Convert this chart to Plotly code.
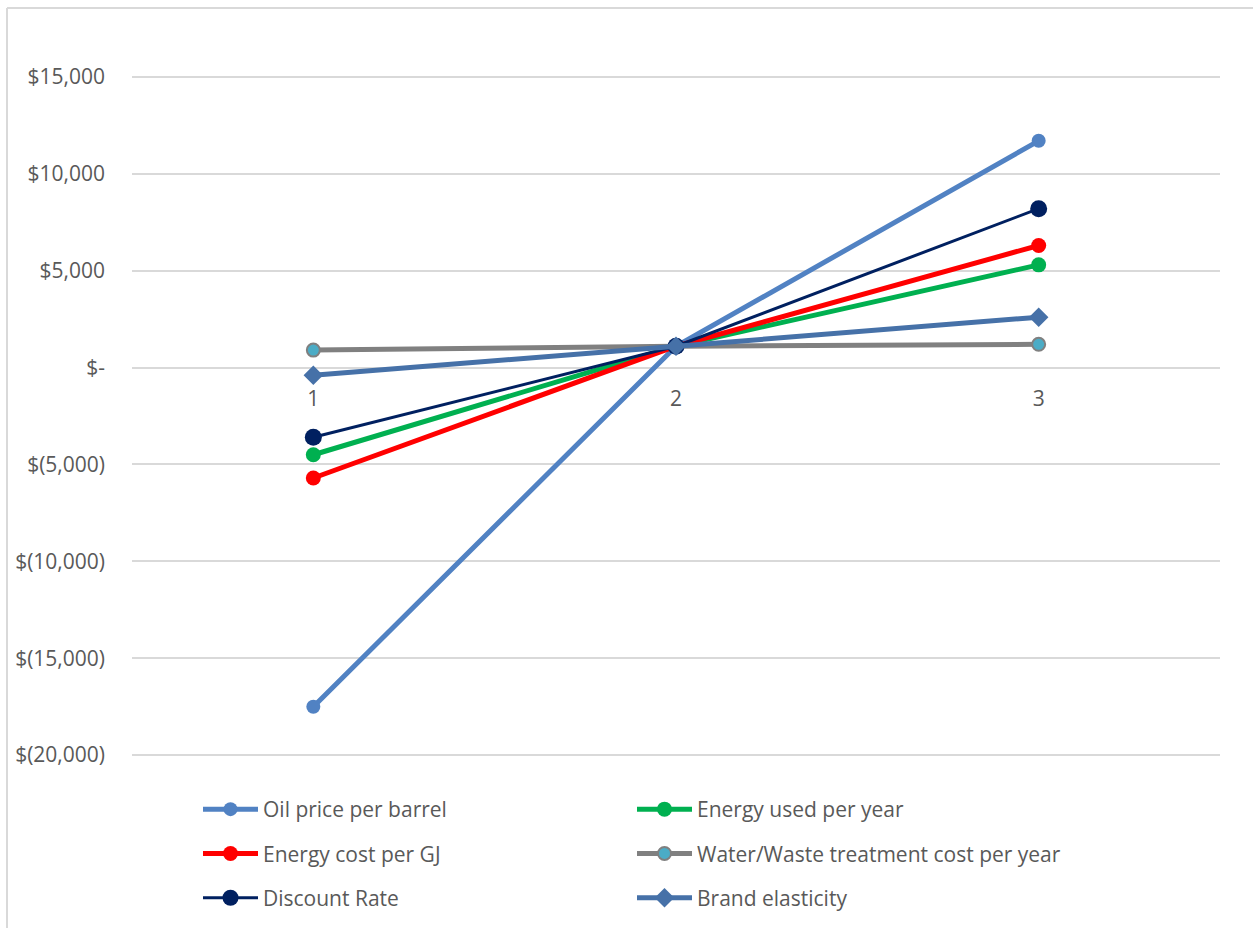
import plotly.graph_objects as go

categories = [1, 2, 3]
series_names = ["Oil price per barrel", "Energy used per year", "Energy cost per GJ",
                "Water/Waste treatment cost per year", "Discount Rate", "Brand elasticity"]
oil = [-17500, 1100, 11700]
energy_used = [-4500, 1100, 5300]
energy_cost = [-5700, 1100, 6300]
water = [900, 1100, 1200]
discount = [-3600, 1100, 8200]
brand = [-400, 1100, 2600]

y_tickvals = [15000, 10000, 5000, 0, -5000, -10000, -15000, -20000]
y_ticktext = ["$15,000", "$10,000", "$5,000", "$-", "$(5,000)", "$(10,000)", "$(15,000)", "$(20,000)"]

FONT = "Open Sans"
TXT = "#595959"
GRID = "#D9D9D9"

styles = [
    dict(data=oil, color="#5182C3", width=5, msym="circle", msize=14, mcolor="#5182C3", mline=None, legend="legend"),
    dict(data=energy_used, color="#00B050", width=5, msym="circle", msize=15, mcolor="#00B050", mline=None, legend="legend2"),
    dict(data=energy_cost, color="#FF0000", width=5, msym="circle", msize=15, mcolor="#FF0000", mline=None, legend="legend"),
    dict(data=water, color="#808080", width=5, msym="circle", msize=13, mcolor="#4BACC6", mline=dict(color="#808080", width=2), legend="legend2"),
    dict(data=discount, color="#002060", width=3, msym="circle", msize=17, mcolor="#002060", mline=None, legend="legend"),
    dict(data=brand, color="#4671A8", width=5, msym="diamond", msize=15, mcolor="#4671A8", mline=None, legend="legend2"),
]

fig = go.Figure()
for i, (name, st) in enumerate(zip(series_names, styles)):
    marker = dict(symbol=st["msym"], size=st["msize"], color=st["mcolor"])
    if st["mline"]:
        marker["line"] = st["mline"]
    else:
        marker["line"] = dict(width=0)
    fig.add_trace(go.Scatter(
        x=categories, y=st["data"], name=name, mode="lines+markers",
        line=dict(color=st["color"], width=st["width"]),
        marker=marker, legend=st["legend"], legendgroup="g%d" % i,
    ))

ymin, ymax = -20200, 15200
TOP, BOT = 73, 759  # plot area pixel edges
LEFT, RIGHT = 132, 1220
PW, PH = RIGHT - LEFT, BOT - TOP
px2x = lambda px: (px - LEFT) / PW
px2y = lambda py: (BOT - py) / PH

fig.update_layout(
    width=1253, height=928,
    margin=dict(l=LEFT, r=1253 - RIGHT, t=TOP, b=928 - BOT, autoexpand=False),
    paper_bgcolor="white", plot_bgcolor="white",
    font=dict(family=FONT, size=21, color=TXT),
    xaxis=dict(range=[0.5, 3.5], tickvals=categories, ticktext=[str(c) for c in categories],
               showgrid=False, zeroline=False, showline=False, anchor="free",
               position=(0 - ymin) / (ymax - ymin), ticks="", ticklabelstandoff=16,
               tickfont=dict(family=FONT, size=21, color=TXT), fixedrange=True),
    yaxis=dict(range=[ymin, ymax], tickvals=y_tickvals, ticktext=y_ticktext,
               showgrid=True, gridcolor=GRID, gridwidth=1.5, zeroline=False, showline=False,
               ticks="", ticklabelstandoff=26,
               tickfont=dict(family=FONT, size=21, color=TXT), fixedrange=True),
    legend=dict(x=px2x(198), y=px2y(789), xanchor="left", yanchor="top",
                orientation="v", tracegroupgap=14, font=dict(family=FONT, size=21, color=TXT),
                itemwidth=55, bgcolor="rgba(0,0,0,0)"),
    legend2=dict(x=px2x(632), y=px2y(789), xanchor="left", yanchor="top",
                 orientation="v", tracegroupgap=14, font=dict(family=FONT, size=21, color=TXT),
                 itemwidth=55, bgcolor="rgba(0,0,0,0)"),
    showlegend=True,
)

# chart border (top and left edges visible)
fig.add_shape(type="line", xref="paper", yref="paper", x0=px2x(7), x1=px2x(1260), y0=px2y(8), y1=px2y(8),
              line=dict(color="#D9D9D9", width=2))
fig.add_shape(type="line", xref="paper", yref="paper", x0=px2x(7), x1=px2x(7), y0=px2y(8), y1=px2y(935),
              line=dict(color="#D9D9D9", width=2))

fig.write_html("out.html")
